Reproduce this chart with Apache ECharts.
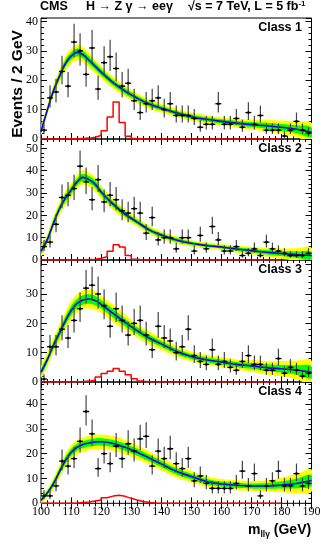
<!DOCTYPE html>
<html>
<head>
<meta charset="utf-8">
<script src="https://cdn.jsdelivr.net/npm/echarts@6/dist/echarts.min.js"></script>
<style>
html, body { margin: 0; padding: 0; background: #fff; }
#main { width: 332px; height: 544px; }
</style>
</head>
<body>
<div id="main"></div>
<script>
// bin centres of the 2 GeV data bins
const binCenters = [101, 103, 105, 107, 109, 111, 113, 115, 117, 119, 121, 123, 125, 127, 129,
  131, 133, 135, 137, 139, 141, 143, 145, 147, 149, 151, 153, 155, 157, 159,
  161, 163, 165, 167, 169, 171, 173, 175, 177, 179, 181, 183, 185, 187, 189];

const counts1 = [3, 14, 16, 23, 18, 33, 30, 22, 31, 17, 26, 28, 24, 18, 19,
  13, 9, 12, 13, 14, 10, 12, 8, 8, 8, 7, 4, 5, 5, 12,
  5, 5, 7, 4, 9, 5, 8, 3, 3, 3, 1, 3, 6, 3, 2];
const counts2 = [6, 8, 16, 28, 29, 32, 42, 35, 27, 36, 26, 29, 27, 22, 21,
  23, 21, 12, 19, 9, 10, 10, 5, 10, 10, 4, 11, 5, 15, 9,
  4, 4, 6, 2, 3, 5, 2, 8, 5, 4, 3, 2, 2, 2, 3];
const counts3 = [1, 12, 12, 18, 15, 21, 25, 32, 33, 30, 26, 19, 25, 21, 16,
  20, 21, 16, 11, 19, 15, 14, 10, 12, 18, 9, 7, 6, 11, 6,
  7, 5, 4, 7, 9, 6, 6, 4, 4, 8, 3, 5, 4, 2, 3];
const counts4 = [3, 3, 7, 17, 15, 18, 25, 37, 28, 14, 20, 16, 23, 18, 24,
  21, 26, 27, 15, 21, 18, 22, 16, 14, 18, 9, 11, 8, 6, 6,
  6, 6, 8, 13, 7, 12, 3, 7, 9, 13, 7, 7, 12, 7, 8];

// background fit
const fitX = [100, 102, 104, 106, 108, 110, 112, 114, 116, 118, 120, 124, 128, 132, 136,
  140, 145, 150, 155, 160, 165, 170, 175, 180, 185, 190];
const fit1 = [2.5, 9.5, 16.0, 21.0, 25.5, 28.2, 29.5, 28.7, 26.8, 24.8, 22.8, 19.2, 16.3, 13.9, 11.9,
  10.5, 8.9, 7.6, 6.7, 6.0, 5.4, 4.9, 4.5, 4.0, 3.3, 2.3];
const fit2 = [4.0, 8.8, 16.0, 22.5, 27.5, 31.2, 35.0, 37.0, 36.0, 34.0, 30.5, 25.0, 20.5, 17.0, 13.5,
  11.2, 9.0, 7.5, 6.5, 5.8, 4.9, 4.2, 3.5, 2.9, 2.4, 2.0];
const fit3 = [3.4, 7.4, 12.2, 16.4, 20.6, 24.3, 26.8, 28.0, 28.3, 27.8, 26.5, 23.4, 20.3, 17.5, 15.0,
  13.0, 10.5, 8.7, 7.6, 6.8, 6.0, 5.5, 4.9, 4.5, 4.1, 3.3];
const fit4 = [1.3, 4.0, 7.6, 12.4, 17.0, 20.5, 22.6, 23.7, 24.3, 24.7, 24.8, 24.1, 22.6, 20.6, 18.3,
  15.9, 12.9, 10.8, 8.8, 7.8, 7.3, 7.0, 7.0, 7.4, 8.0, 9.2];

// one-sigma half width of the fit band
const sig1 = [0.7, 0.85, 1.0, 1.15, 1.25, 1.3, 1.35, 1.3, 1.25, 1.15, 1.1, 1.0, 0.95, 0.85, 0.8,
  0.75, 0.7, 0.7, 0.7, 0.7, 0.8, 0.85, 1.0, 1.15, 1.35, 1.6];
const sig2 = [1.15, 1.3, 1.45, 1.45, 1.6, 1.6, 1.6, 1.6, 1.6, 1.6, 1.45, 1.3, 1.15, 1.0, 0.95,
  0.85, 0.8, 0.7, 0.7, 0.7, 0.8, 0.85, 1.0, 1.15, 1.45, 1.75];
const sig3 = [1.0, 1.15, 1.3, 1.45, 1.45, 1.6, 1.6, 1.6, 1.6, 1.6, 1.45, 1.45, 1.3, 1.15, 1.1,
  1.0, 0.95, 0.85, 0.85, 0.85, 0.85, 1.0, 1.15, 1.3, 1.6, 2.0];
const sig4 = [0.7, 0.85, 1.15, 1.3, 1.45, 1.45, 1.45, 1.45, 1.45, 1.45, 1.45, 1.45, 1.45, 1.4, 1.3,
  1.3, 1.25, 1.15, 1.1, 1.0, 1.0, 1.0, 1.15, 1.45, 1.9, 2.2];

// signal histogram, 2 GeV bins from 100 to 180
const sigEdges = [100, 102, 104, 106, 108, 110, 112, 114, 116, 118, 120, 122, 124, 126, 128, 130, 132, 134, 136, 138,
  140, 142, 144, 146, 148, 150, 152, 154, 156, 158, 160, 162, 164, 166, 168, 170, 172, 174, 176, 178, 180];
const higgs1 = [0, 0, 0, 0, 0.05, 0.1, 0.2, 0.3, 0.6, 1.2, 2.8, 7.5, 12.6, 5.6, 0.9, 0.2, 0.05, 0, 0, 0,
  0, 0, 0, 0, 0, 0, 0, 0, 0, 0, 0, 0, 0, 0, 0, 0, 0, 0, 0, 0];
const higgs2 = [0, 0, 0, 0, 0, 0.05, 0.1, 0.2, 0.3, 0.8, 1.5, 3.9, 6.8, 5.8, 2.0, 0.3, 0.05, 0, 0, 0,
  0, 0, 0, 0, 0, 0, 0, 0, 0, 0, 0, 0, 0, 0, 0, 0, 0, 0, 0, 0];
const higgs3 = [0, 0, 0, 0, 0, 0.05, 0.15, 0.3, 0.6, 1.7, 2.9, 3.7, 4.6, 3.7, 2.5, 1.1, 0.3, 0.05, 0, 0,
  0, 0, 0, 0, 0, 0, 0, 0, 0, 0, 0, 0, 0, 0, 0, 0, 0, 0, 0, 0];
const higgs4 = [0, 0, 0, 0, 0, 0.1, 0.3, 0.5, 0.9, 1.3, 2.2, 2.9, 3.2, 2.8, 2.0, 1.3, 0.7, 0.3, 0.1, 0,
  0, 0, 0, 0, 0, 0, 0, 0, 0, 0, 0, 0, 0, 0, 0, 0, 0, 0, 0, 0];

const xTicks = [100, 110, 120, 130, 140, 150, 160, 170, 180, 190];
const classNames = ['Class 1', 'Class 2', 'Class 3', 'Class 4'];

const panels = [
  { counts: counts1, fit: fit1, sig: sig1, higgs: higgs1 },
  { counts: counts2, fit: fit2, sig: sig2, higgs: higgs2 },
  { counts: counts3, fit: fit3, sig: sig3, higgs: higgs3 },
  { counts: counts4, fit: fit4, sig: sig4, higgs: higgs4 },
];
const panelTops = [18, 139, 260, 382];
const panelHeights = [121, 121, 122, 121.3];
const yMax = [41.2, 54.2, 41.6, 48.9];
const hiddenLabel = [[], [], [40], []];

const chart = echarts.init(document.getElementById('main'));

// approx poisson interval
function errLo(n) { return n - Math.sqrt(n + 0.25) + 0.5; }
function errHi(n) { return n + Math.sqrt(n + 0.25) + 0.5; }

function renderPoint(params, api) {
  const x = api.value(0), n = api.value(1);
  const c = api.coord([x, n]);
  const top = api.coord([x, api.value(3)]);
  const bot = api.coord([x, api.value(2)]);
  const l = api.coord([x - 1, n]);
  const r = api.coord([x + 1, n]);
  return {
    type: 'group',
    children: [
      { type: 'line', shape: { x1: c[0], y1: top[1], x2: c[0], y2: bot[1] }, style: { stroke: '#444', lineWidth: 1.2 } },
      { type: 'line', shape: { x1: l[0], y1: c[1], x2: r[0], y2: c[1] }, style: { stroke: '#000', lineWidth: 1.3 } },
      { type: 'circle', shape: { cx: c[0], cy: c[1], r: 1.3 }, style: { fill: '#000' } }
    ]
  };
}

// band between fit - w*sig and fit + w*sig, drawn once per panel
function bandRenderer(p, w, color) {
  return function (params, api) {
    if (params.dataIndex !== 0) return;
    const upper = fitX.map((x, i) => api.coord([x, p.fit[i] + w * p.sig[i]]));
    const lower = fitX.map((x, i) => api.coord([x, p.fit[i] - w * p.sig[i]])).reverse();
    return {
      type: 'polygon',
      shape: { points: upper.concat(lower), smooth: 0.4, smoothConstraint: false },
      style: { fill: color, stroke: null }
    };
  };
}

const grid = [], xAxis = [], yAxis = [], series = [];
const tickStyle = { color: '#000', width: 1 };

panels.forEach((p, k) => {
  grid.push({
    left: 41, right: 20.5, top: panelTops[k], height: panelHeights[k],
    show: true, borderColor: '#000', borderWidth: 1, backgroundColor: 'transparent'
  });
  ['bottom', 'top'].forEach((pos) => {
    xAxis.push({
      gridIndex: k, type: 'value', min: 100, max: 190, interval: 10, position: pos,
      axisLine: { show: false }, splitLine: { show: false },
      axisTick: { inside: true, length: 6, lineStyle: tickStyle },
      axisLabel: {
        show: pos === 'bottom' && k === 3, margin: 3, color: '#000',
        fontFamily: 'Liberation Serif', fontSize: 12,
        formatter: (v) => (xTicks.includes(v) ? String(v) : '')
      }
    });
    xAxis.push({
      gridIndex: k, type: 'value', min: 100, max: 190, interval: 2, position: pos,
      axisLine: { show: false }, splitLine: { show: false },
      axisTick: { inside: true, length: 3, lineStyle: tickStyle },
      axisLabel: { show: false }
    });
  });
  ['left', 'right'].forEach((pos) => {
    yAxis.push({
      gridIndex: k, type: 'value', min: 0, max: yMax[k], interval: 10, position: pos,
      axisLine: { show: false }, splitLine: { show: false },
      axisTick: { inside: true, length: 6, lineStyle: tickStyle },
      axisLabel: {
        show: pos === 'left', margin: 3, color: '#000',
        fontFamily: 'Liberation Serif', fontSize: 12,
        formatter: (v) => (v % 10 === 0 && !hiddenLabel[k].includes(v) ? String(v) : '')
      }
    });
    yAxis.push({
      gridIndex: k, type: 'value', min: 0, max: yMax[k], interval: 2, position: pos,
      axisLine: { show: false }, splitLine: { show: false },
      axisTick: { inside: true, length: 3, lineStyle: tickStyle },
      axisLabel: { show: false }
    });
  });

  const xi = 4 * k, yi = 4 * k;
  const fitData = fitX.map((x, i) => [x, p.fit[i]]);
  series.push({
    type: 'custom', xAxisIndex: xi, yAxisIndex: yi, z: 2, clip: true, silent: true,
    renderItem: bandRenderer(p, 2, '#ffff00'), data: fitData
  });
  series.push({
    type: 'custom', xAxisIndex: xi, yAxisIndex: yi, z: 2, clip: true, silent: true,
    renderItem: bandRenderer(p, 1, '#00ff00'), data: fitData
  });
  series.push({
    type: 'line', xAxisIndex: xi, yAxisIndex: yi, smooth: 0.4, symbol: 'none', z: 3,
    lineStyle: { color: '#0000ee', width: 1.6 },
    data: fitData
  });
  const hist = p.higgs.map((v, i) => [sigEdges[i], v]);
  hist.push([sigEdges[sigEdges.length - 1], p.higgs[p.higgs.length - 1]]);
  series.push({
    type: 'line', xAxisIndex: xi, yAxisIndex: yi, step: 'end', symbol: 'none', z: 4,
    lineStyle: { color: '#ff0000', width: 1.5 },
    data: hist
  });
  series.push({
    type: 'custom', xAxisIndex: xi, yAxisIndex: yi, z: 5, clip: true,
    renderItem: renderPoint,
    data: binCenters.map((m, i) => [m, p.counts[i], errLo(p.counts[i]), errHi(p.counts[i])])
  });
});

const sans = '"Liberation Sans", Arial, sans-serif';
const graphic = [
  { type: 'text', x: 40, y: 7, style: { text: 'CMS', font: 'bold 12.5px ' + sans, fill: '#000', textVerticalAlign: 'middle' } },
  { type: 'text', x: 86, y: 7, style: { text: 'H \u2192 Z \u03b3 \u2192 ee\u03b3', font: 'bold 12.5px ' + sans, fill: '#000', textVerticalAlign: 'middle' } },
  {
    type: 'text', x: 188, y: 7,
    style: {
      text: '{a|\u221as = 7 TeV, L = 5 fb}{s|-1}', fill: '#000', textVerticalAlign: 'middle',
      rich: {
        a: { fontFamily: sans, fontWeight: 'bold', fontSize: 12.5, lineHeight: 14 },
        s: { fontFamily: sans, fontWeight: 'bold', fontSize: 8, verticalAlign: 'top', lineHeight: 14 }
      }
    }
  },
  {
    type: 'text', x: 18, y: 84, rotation: Math.PI / 2,
    style: { text: 'Events / 2 GeV', font: 'bold 15.5px ' + sans, fill: '#000', textAlign: 'center', textVerticalAlign: 'middle' }
  },
  {
    type: 'text', x: 248, y: 530,
    style: {
      text: '{m|m}{s|ll\u03b3}{m| (GeV)}', fill: '#000', textVerticalAlign: 'middle',
      rich: {
        m: { fontFamily: sans, fontWeight: 'bold', fontSize: 14, lineHeight: 18 },
        s: { fontFamily: sans, fontWeight: 'bold', fontSize: 8.5, verticalAlign: 'bottom', lineHeight: 18 }
      }
    }
  }
];
classNames.forEach((name, k) => {
  graphic.push({
    type: 'text', x: 302, y: panelTops[k] + 9.5,
    style: { text: name, font: 'bold 12.5px ' + sans, fill: '#000', textAlign: 'right', textVerticalAlign: 'middle' }
  });
});

chart.setOption({
  animation: false,
  grid: grid,
  xAxis: xAxis,
  yAxis: yAxis,
  series: series,
  graphic: graphic
});
</script>
</body>
</html>
